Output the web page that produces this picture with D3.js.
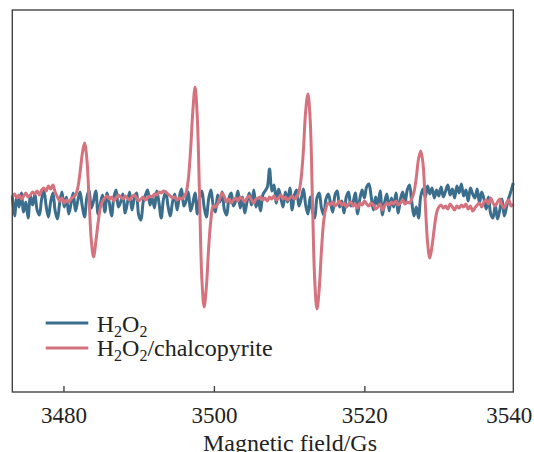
<!DOCTYPE html>
<html>
<head>
<meta charset="utf-8">
<script src="https://cdn.jsdelivr.net/npm/d3@7"></script>
<style>
	body { margin: 0; background: #fff; }
</style>
</head>
<body>
<script>
// field axis: sampled every 0.3 Gs from 3473.2 Gs
const FIELD_START = 3473.2;
const FIELD_STEP = 0.3;

const xTicks = [3480, 3500, 3520, 3540];

// H2O2 alone (arb. units, baseline 0)
const h2o2 = [
	4, -16, 3, -7, 7, -12, -2, -18, 4, -5,
	6, -10, -15, 1, 9, -6, -17, -2, 7, -11,
	-19, -3, 8, -7, 3, -14, -4, 7, -11, -1,
	8, -6, -17, 2, 10, -8, -1, 9, -14, -4,
	5, -12, 7, -3, -16, 3, 10, -7, -2, 6,
	-13, -3, 8, -10, 1, 7, -15, -20, -2, 5,
	10, -5, 2, -8, 9, -3, -18, 1, 8, -6,
	-16, -2, 6, -10, 3, 11, -6, -1, 8, -11,
	-3, 7, -14, 2, 9, -7, -17, 1, 10, -5,
	-12, 5, -2, 8, -10, -15, 2, 7, -6, -1,
	9, -8, 3, -13, -2, 7, -5, 10, -7, 1,
	-11, 5, 9, 13, 31, 9, 15, -3, 11, 2,
	-7, 8, -2, 12, -10, 5, 10, -6, 1, 11,
	-5, -14, 3, -11, -18, 2, 7, -8, -15, 1,
	6, -3, -12, 5, 9, -7, -1, -13, 3, 8,
	-6, -2, 7, -14, 1, 10, 2, 13, 16, 4,
	-10, 3, -5, 9, -15, -2, 6, -11, 2, -7,
	7, -13, 1, 8, -3, 10, 15, -2, -16, -7,
	-18, 4, 11, 3, 14, 6, 12, 2, 10, 4,
	13, 3, 9, 15, 5, 11, 2, 14, 7, 16,
	4, 10, -1, 12, 6, 2, 11, -3, 8, 1,
	-9, 3, -14, -18, -5, -19, -10, 1, -16, -7, 2, 9, 17
];

// H2O2 + chalcopyrite (DMPO-OH quartet)
const h2o2Chalco = [
	3, 6, 2, 5, 1, 4, 7, 3, 5, 8,
	6, 9, 5, 10, 12, 9, 14, 11, 15, 8,
	3, -1, 2, -3, 0, -2, 1, 3, 5, 12,
	27, 46, 57, 42, 2, -40, -57, -42, -23, -8,
	-1, 2, 4, 1, 3, -1, 2, 5, 3, 1,
	4, 2, 0, 3, 5, 2, -1, 1, 3, 0,
	2, 4, 3, 6, 5, 8, 7, 9, 8, 6,
	4, 2, 3, 0, 2, 1, 3, 7, 21, 50,
	89, 113, 81, 1, -79, -107, -87, -48, -20, -6,
	-7, -4, 2, 7, 3, -2, 1, -3, 0, 2,
	-1, 3, 1, -2, 2, 4, 0, -3, 1, 2,
	3, 0, 2, -1, 3, 1, 4, 0, 2, 5,
	1, 3, 0, 2, 4, 1, 3, 8, 22, 50,
	89, 106, 80, 0, -80, -109, -89, -50, -21, -8,
	-3, -5, -2, -6, -4, -1, -5, -3, -7, -4,
	-2, -6, -4, -8, -3, -5, -1, -4, -6, -3,
	-5, -9, -7, -4, -10, -6, -3, -5, -2, -4,
	-1, -5, -3, 0, -4, -2, -3, 1, 8, 22,
	41, 49, 36, -3, -42, -58, -46, -28, -13, -7,
	-5, -8, -6, -9, -4, -7, -10, -6, -8, -5,
	-7, -4, -9, -6, -11, -8, -5, -3, -7, -2,
	0, -4, 2, -3, -6, -2, 1, -5, -8, -3, 0, -6, -4
];

const seriesNames = ["H2O2", "H2O2/chalcopyrite"];
const seriesColors = ["#3b6e8c", "#d4727e"];

const WIDTH = 534, HEIGHT = 452;
const PLOT = { left: 12.3, right: 513.3, top: 10, bottom: 392 };
const FONT = "'Times New Roman', 'Liberation Serif', Tinos, serif";

const svg = d3.select("body").append("svg")
	.attr("width", WIDTH)
	.attr("height", HEIGHT);

const x = d3.scaleLinear()
	.domain([FIELD_START, 3539.8])
	.range([PLOT.left, PLOT.right]);

const y = d3.scaleLinear()
	.domain([-192, 190])
	.range([PLOT.bottom, PLOT.top]);

const toPoints = arr => arr.map((v, i) => ({ field: FIELD_START + i * FIELD_STEP, value: v }));

const line = d3.line()
	.x(d => x(d.field))
	.y(d => y(d.value))
	.curve(d3.curveCatmullRom);

const plot = svg.append("g");

[h2o2, h2o2Chalco].forEach((arr, k) => {
	plot.append("path")
		.datum(toPoints(arr))
		.attr("fill", "none")
		.attr("stroke", seriesColors[k])
		.attr("stroke-width", 3)
		.attr("stroke-linejoin", "round")
		.attr("d", line);
});

// frame
svg.append("rect")
	.attr("x", PLOT.left)
	.attr("y", PLOT.top)
	.attr("width", PLOT.right - PLOT.left)
	.attr("height", PLOT.bottom - PLOT.top)
	.attr("fill", "none")
	.attr("stroke", "#444")
	.attr("stroke-width", 1.4);

// bottom axis, ticks pointing inward
const xAxis = d3.axisBottom(x)
	.tickValues(xTicks)
	.tickFormat(d3.format("d"))
	.tickSizeInner(-6)
	.tickSizeOuter(0)
	.tickPadding(15);

const xAxisGroup = svg.append("g")
	.attr("transform", `translate(0,${PLOT.bottom})`)
	.call(xAxis);

xAxisGroup.select(".domain").remove();
xAxisGroup.selectAll(".tick line")
	.attr("stroke", "#444")
	.attr("stroke-width", 1.4)
	.attr("opacity", d => d === 3540 ? 0 : 1);
xAxisGroup.selectAll(".tick text")
	.style("font-family", FONT)
	.style("font-size", "23px")
	.attr("fill", "#222")
	.attr("dx", d => d === 3540 ? -6 : 0);

svg.append("text")
	.attr("x", 290)
	.attr("y", 451)
	.attr("text-anchor", "middle")
	.style("font-family", FONT)
	.style("font-size", "24px")
	.attr("fill", "#222")
	.text("Magnetic field/Gs");

// legend
const legend = svg.append("g");
const LEG = { x1: 45.7, x2: 88.3, tx: 96.7, rows: [323, 348], base: [331.7, 356] };

seriesNames.forEach((name, k) => {
	legend.append("line")
		.attr("x1", LEG.x1)
		.attr("x2", LEG.x2)
		.attr("y1", LEG.rows[k])
		.attr("y2", LEG.rows[k])
		.attr("stroke", seriesColors[k])
		.attr("stroke-width", 3);

	const t = legend.append("text")
		.attr("x", LEG.tx)
		.attr("y", LEG.base[k])
		.style("font-family", FONT)
		.style("font-size", "24px")
		.attr("fill", "#222");
	t.append("tspan").text("H");
	t.append("tspan").style("font-size", "16px").attr("dy", 5).text("2");
	t.append("tspan").attr("dy", -5).text("O");
	t.append("tspan").style("font-size", "16px").attr("dy", 5).text("2");
	if (name.includes("/")) {
		t.append("tspan").attr("dy", -5).text("/chalcopyrite");
	}
});
</script>
</body>
</html>
